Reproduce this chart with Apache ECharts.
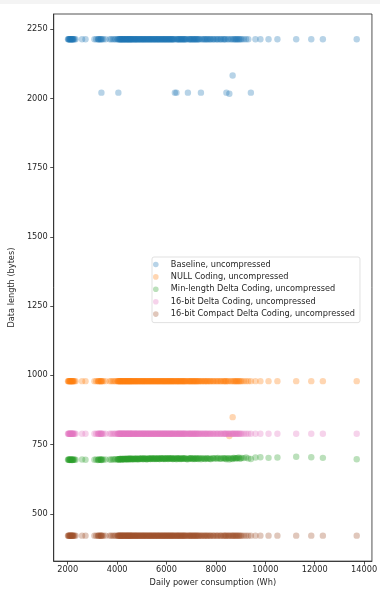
<!DOCTYPE html>
<html>
<head>
<meta charset="utf-8">
<script src="https://cdn.jsdelivr.net/npm/echarts@6/dist/echarts.min.js"></script>
<style>
  html, body { margin: 0; padding: 0; background: #ffffff; }
  #strip { position: absolute; left: 0; top: 0; width: 380px; height: 4px; background: #f4f4f4; }
  #chart { position: absolute; left: 0; top: 0; width: 380px; height: 592px; }
</style>
</head>
<body>
<div id="chart"></div>
<div id="strip"></div>
<script>
// Daily power consumption (Wh), one entry per day
const consumption = [
  2010, 2030, 2055, 2080, 2100, 2120, 2145, 2170, 2190, 2215,
  2240, 2275, 2320, 2580, 2720, 3080, 3150, 3220, 3260, 3300,
  3330, 3364, 3390, 3440, 3530, 3700, 3760, 3830, 3890, 3940,
  4010, 4050, 4085, 4120, 4160, 4190, 4230, 4270, 4300, 4345,
  4380, 4420, 4450, 4490, 4530, 4560, 4600, 4640, 4690, 4730,
  4770, 4810, 4860, 4900, 4950, 4990, 5040, 5080, 5130, 5170,
  5220, 5270, 5310, 5360, 5400, 5450, 5500, 5540, 5590, 5640,
  5680, 5730, 5780, 5820, 5870, 5920, 5960, 6010, 6060, 6100,
  6150, 6200, 6240, 6290, 6338, 6401, 6440, 6490, 6540, 6590,
  6640, 6690, 6740, 6790, 6865, 6900, 6950, 7000, 7060, 7110,
  7170, 7220, 7280, 7340, 7393, 7450, 7510, 7570, 7620, 7680,
  7740, 7800, 7870, 7940, 8010, 8080, 8150, 8220, 8290, 8360,
  8424, 8480, 8543, 8600, 8677, 8740, 8810, 8880, 8960, 9050,
  9130, 9220, 9310, 9415, 9600, 9800, 10130, 10490, 11250, 11860,
  12330, 13700,
  4025, 4070, 4105, 4140, 4175, 4210, 4250, 4285, 4325, 4360,
  4400, 4435, 4470, 4510, 4545, 4580, 4620, 4665, 4710, 4750,
  4790, 4835, 4880, 4925, 4970, 5015, 5060, 5105, 5150, 5195,
  5245, 5290, 5335, 5380, 5425, 5475, 5520, 5565, 5615, 5660,
  5705, 5755, 5800, 5845, 5895, 5940, 5985, 6035, 6080, 6125,
  6175, 6220, 6265, 6315, 6370, 6420, 6465, 6515, 6565, 6615,
  6665, 6715, 6765, 6830, 6925, 6975, 7030, 7085, 7140, 7195,
  7250, 7310, 7420, 7540, 7650, 7770, 7900, 8050, 8190, 8330,
  2040, 2090, 2160, 2200, 3240, 3350,
  8400, 8520, 8640, 8700, 8780, 8850, 8920, 9000
];

// Encoded data length (bytes) for each day, per encoding
const baselineBytes = [
  2214, 2214, 2214, 2214, 2214, 2214, 2214, 2214, 2214, 2214,
  2214, 2214, 2214, 2214, 2214, 2214, 2214, 2214, 2214, 2214,
  2214, 2021, 2214, 2214, 2214, 2214, 2214, 2214, 2214, 2214,
  2214, 2021, 2214, 2214, 2214, 2214, 2214, 2214, 2214, 2214,
  2214, 2214, 2214, 2214, 2214, 2214, 2214, 2214, 2214, 2214,
  2214, 2214, 2214, 2214, 2214, 2214, 2214, 2214, 2214, 2214,
  2214, 2214, 2214, 2214, 2214, 2214, 2214, 2214, 2214, 2214,
  2214, 2214, 2214, 2214, 2214, 2214, 2214, 2214, 2214, 2214,
  2214, 2214, 2214, 2214, 2021, 2021, 2214, 2214, 2214, 2214,
  2214, 2214, 2214, 2214, 2021, 2214, 2214, 2214, 2214, 2214,
  2214, 2214, 2214, 2214, 2021, 2214, 2214, 2214, 2214, 2214,
  2214, 2214, 2214, 2214, 2214, 2214, 2214, 2214, 2214, 2214,
  2021, 2214, 2017, 2214, 2083, 2214, 2214, 2214, 2214, 2214,
  2214, 2214, 2214, 2021, 2214, 2214, 2214, 2214, 2214, 2214,
  2214, 2214,
  2214, 2214, 2214, 2214, 2214, 2214, 2214, 2214, 2214, 2214,
  2214, 2214, 2214, 2214, 2214, 2214, 2214, 2214, 2214, 2214,
  2214, 2214, 2214, 2214, 2214, 2214, 2214, 2214, 2214, 2214,
  2214, 2214, 2214, 2214, 2214, 2214, 2214, 2214, 2214, 2214,
  2214, 2214, 2214, 2214, 2214, 2214, 2214, 2214, 2214, 2214,
  2214, 2214, 2214, 2214, 2214, 2214, 2214, 2214, 2214, 2214,
  2214, 2214, 2214, 2214, 2214, 2214, 2214, 2214, 2214, 2214,
  2214, 2214, 2214, 2214, 2214, 2214, 2214, 2214, 2214, 2214,
  2214, 2214, 2214, 2214, 2214, 2214,
  2214, 2214, 2214, 2214, 2214, 2214, 2214, 2214
];

const nullCodingBytes = [
  979, 979, 979, 979, 979, 979, 979, 979, 979, 979,
  979, 979, 979, 979, 979, 979, 979, 979, 979, 979,
  979, 979, 979, 979, 979, 979, 979, 979, 979, 979,
  979, 979, 979, 979, 979, 979, 979, 979, 979, 979,
  979, 979, 979, 979, 979, 979, 979, 979, 979, 979,
  979, 979, 979, 979, 979, 979, 979, 979, 979, 979,
  979, 979, 979, 979, 979, 979, 979, 979, 979, 979,
  979, 979, 979, 979, 979, 979, 979, 979, 979, 979,
  979, 979, 979, 979, 979, 979, 979, 979, 979, 979,
  979, 979, 979, 979, 979, 979, 979, 979, 979, 979,
  979, 979, 979, 979, 979, 979, 979, 979, 979, 979,
  979, 979, 979, 979, 979, 979, 979, 979, 979, 979,
  979, 979, 781, 979, 849, 979, 979, 979, 979, 979,
  979, 979, 979, 979, 979, 979, 979, 979, 979, 979,
  979, 979,
  979, 979, 979, 979, 979, 979, 979, 979, 979, 979,
  979, 979, 979, 979, 979, 979, 979, 979, 979, 979,
  979, 979, 979, 979, 979, 979, 979, 979, 979, 979,
  979, 979, 979, 979, 979, 979, 979, 979, 979, 979,
  979, 979, 979, 979, 979, 979, 979, 979, 979, 979,
  979, 979, 979, 979, 979, 979, 979, 979, 979, 979,
  979, 979, 979, 979, 979, 979, 979, 979, 979, 979,
  979, 979, 979, 979, 979, 979, 979, 979, 979, 979,
  979, 979, 979, 979, 979, 979,
  979, 979, 979, 979, 979, 979, 979, 979
];

const minLengthDeltaBytes = [
  695, 696, 695, 694, 696, 695, 695, 696, 694, 695,
  696, 695, 695, 696, 695, 695, 696, 694, 695, 696,
  695, 694, 696, 695, 696, 696, 695, 697, 696, 697,
  696, 697, 696, 698, 697, 696, 698, 697, 699, 697,
  698, 696, 699, 697, 698, 700, 697, 698, 699, 697,
  699, 698, 697, 700, 698, 699, 697, 700, 698, 699,
  697, 700, 699, 698, 701, 698, 699, 700, 698, 699,
  700, 698, 701, 699, 698, 700, 699, 701, 698, 700,
  699, 701, 698, 700, 699, 697, 700, 701, 699, 698,
  700, 699, 701, 698, 697, 700, 699, 701, 698, 700,
  699, 700, 698, 701, 697, 699, 700, 698, 701, 699,
  700, 698, 701, 699, 700, 702, 699, 700, 701, 699,
  697, 701, 696, 700, 698, 702, 700, 701, 699, 702,
  701, 703, 700, 698, 703, 704, 702, 703, 706, 704,
  702, 697,
  697, 696, 698, 697, 699, 696, 698, 697, 698, 699,
  697, 699, 698, 700, 697, 699, 698, 697, 700, 698,
  699, 697, 700, 698, 699, 701, 698, 700, 699, 697,
  700, 699, 698, 701, 699, 700, 698, 701, 699, 700,
  698, 701, 700, 699, 701, 698, 700, 699, 701, 700,
  699, 701, 698, 700, 699, 701, 700, 698, 700, 699,
  701, 699, 700, 698, 700, 701, 699, 700, 698, 701,
  699, 700, 701, 699, 700, 698, 701, 700, 699, 701,
  695, 696, 694, 695, 695, 696,
  700, 701, 699, 702, 700, 701, 703, 700
];

const delta16Bytes = [
  789, 789, 789, 789, 789, 789, 789, 789, 789, 789,
  789, 789, 789, 789, 789, 789, 789, 789, 789, 789,
  789, 789, 789, 789, 789, 789, 789, 789, 789, 789,
  789, 789, 789, 789, 789, 789, 789, 789, 789, 789,
  789, 789, 789, 789, 789, 789, 789, 789, 789, 789,
  789, 789, 789, 789, 789, 789, 789, 789, 789, 789,
  789, 789, 789, 789, 789, 789, 789, 789, 789, 789,
  789, 789, 789, 789, 789, 789, 789, 789, 789, 789,
  789, 789, 789, 789, 789, 789, 789, 789, 789, 789,
  789, 789, 789, 789, 789, 789, 789, 789, 789, 789,
  789, 789, 789, 789, 789, 789, 789, 789, 789, 789,
  789, 789, 789, 789, 789, 789, 789, 789, 789, 789,
  789, 789, 789, 789, 789, 789, 789, 789, 789, 789,
  789, 789, 789, 789, 789, 789, 789, 789, 789, 789,
  789, 789,
  789, 789, 789, 789, 789, 789, 789, 789, 789, 789,
  789, 789, 789, 789, 789, 789, 789, 789, 789, 789,
  789, 789, 789, 789, 789, 789, 789, 789, 789, 789,
  789, 789, 789, 789, 789, 789, 789, 789, 789, 789,
  789, 789, 789, 789, 789, 789, 789, 789, 789, 789,
  789, 789, 789, 789, 789, 789, 789, 789, 789, 789,
  789, 789, 789, 789, 789, 789, 789, 789, 789, 789,
  789, 789, 789, 789, 789, 789, 789, 789, 789, 789,
  789, 789, 789, 789, 789, 789,
  789, 789, 789, 789, 789, 789, 789, 789
];

const compactDelta16Bytes = [
  421, 421, 421, 421, 421, 421, 421, 421, 421, 421,
  421, 421, 421, 421, 421, 421, 421, 421, 421, 421,
  421, 421, 421, 421, 421, 421, 421, 421, 421, 421,
  421, 421, 421, 421, 421, 421, 421, 421, 421, 421,
  421, 421, 421, 421, 421, 421, 421, 421, 421, 421,
  421, 421, 421, 421, 421, 421, 421, 421, 421, 421,
  421, 421, 421, 421, 421, 421, 421, 421, 421, 421,
  421, 421, 421, 421, 421, 421, 421, 421, 421, 421,
  421, 421, 421, 421, 421, 421, 421, 421, 421, 421,
  421, 421, 421, 421, 421, 421, 421, 421, 421, 421,
  421, 421, 421, 421, 421, 421, 421, 421, 421, 421,
  421, 421, 421, 421, 421, 421, 421, 421, 421, 421,
  421, 421, 421, 421, 421, 421, 421, 421, 421, 421,
  421, 421, 421, 421, 421, 421, 421, 421, 421, 421,
  421, 421,
  421, 421, 421, 421, 421, 421, 421, 421, 421, 421,
  421, 421, 421, 421, 421, 421, 421, 421, 421, 421,
  421, 421, 421, 421, 421, 421, 421, 421, 421, 421,
  421, 421, 421, 421, 421, 421, 421, 421, 421, 421,
  421, 421, 421, 421, 421, 421, 421, 421, 421, 421,
  421, 421, 421, 421, 421, 421, 421, 421, 421, 421,
  421, 421, 421, 421, 421, 421, 421, 421, 421, 421,
  421, 421, 421, 421, 421, 421, 421, 421, 421, 421,
  421, 421, 421, 421, 421, 421,
  421, 421, 421, 421, 421, 421, 421, 421
];

const seriesNames = [
  'Baseline, uncompressed',
  'NULL Coding, uncompressed',
  'Min-length Delta Coding, uncompressed',
  '16-bit Delta Coding, uncompressed',
  '16-bit Compact Delta Coding, uncompressed'
];
const seriesValues = [baselineBytes, nullCodingBytes, minLengthDeltaBytes, delta16Bytes, compactDelta16Bytes];
const seriesColors = ['#1f77b4', '#ff7f0e', '#2ca02c', '#e377c2', '#a0522d'];

const xTicks = [2000, 4000, 6000, 8000, 10000, 12000, 14000];
const yTicks = [500, 750, 1000, 1250, 1500, 1750, 2000, 2250];

const FONT = 'DejaVu Sans';
const INK = '#262626';

const chart = echarts.init(document.getElementById('chart'), null, { renderer: 'canvas' });

const series = seriesNames.map((name, i) => ({
  name,
  type: 'scatter',
  symbol: 'circle',
  symbolSize: 6.4,
  itemStyle: { color: seriesColors[i], opacity: 0.32 },
  emphasis: { disabled: true },
  z: 2 + i,
  data: consumption.map((x, k) => [x, seriesValues[i][k]])
}));

const plain = v => String(v);

chart.setOption({
  animation: false,
  backgroundColor: '#ffffff',
  textStyle: { fontFamily: FONT },
  grid: {
    left: 48, top: 14, width: 325, height: 552,
    show: true, borderColor: INK, borderWidth: 0.8, backgroundColor: 'transparent'
  },
  legend: {
    orient: 'vertical',
    left: 152, top: 257,
    padding: [2, 5, 3, 1],
    itemWidth: 20, itemHeight: 5.6, itemGap: 1.4,
    icon: 'circle',
    backgroundColor: '#ffffff',
    borderColor: '#d9d9d9', borderWidth: 0.8, borderRadius: 2,
    textStyle: { fontFamily: FONT, fontSize: 8.2, color: INK, lineHeight: 11 },
    itemStyle: { opacity: 0.32 },
    data: seriesNames
  },
  xAxis: {
    type: 'value',
    min: 1433, max: 14317,
    name: 'Daily power consumption (Wh)',
    nameLocation: 'middle', nameGap: 16,
    nameTextStyle: { fontFamily: FONT, fontSize: 8.2, color: INK },
    axisLine: { show: true, lineStyle: { color: INK, width: 0.8 } },
    axisTick: { show: true, length: 3.5, lineStyle: { color: INK, width: 0.8 }, customValues: xTicks },
    axisLabel: { fontFamily: FONT, fontSize: 8.2, color: INK, margin: 5, customValues: xTicks, formatter: plain },
    splitLine: { show: false }
  },
  yAxis: {
    type: 'value',
    min: 329, max: 2305,
    name: 'Data length (bytes)',
    nameLocation: 'middle', nameGap: 31,
    nameTextStyle: { fontFamily: FONT, fontSize: 8.2, color: INK },
    axisLine: { show: true, lineStyle: { color: INK, width: 0.8 } },
    axisTick: { show: true, length: 3.5, lineStyle: { color: INK, width: 0.8 }, customValues: yTicks },
    axisLabel: { fontFamily: FONT, fontSize: 8.2, color: INK, margin: 6, customValues: yTicks, formatter: plain },
    splitLine: { show: false }
  },
  series
});
</script>
</body>
</html>
